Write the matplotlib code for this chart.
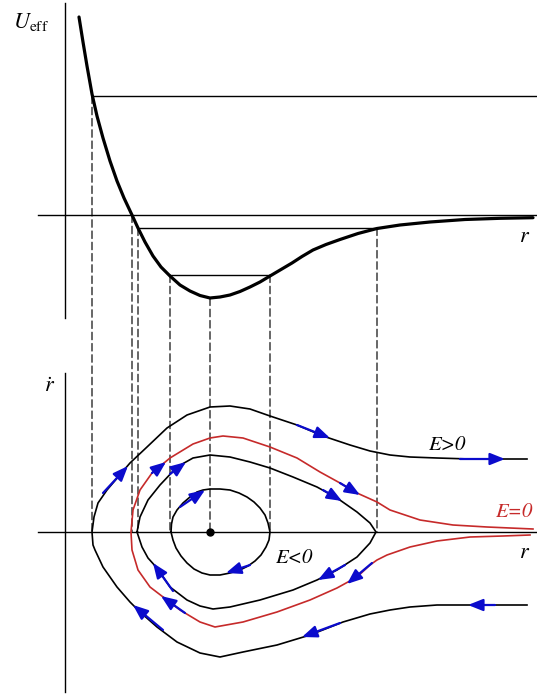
import matplotlib
matplotlib.use('Agg')
import matplotlib.pyplot as plt
from matplotlib.patches import ConnectionPatch

plt.rcParams['mathtext.fontset'] = 'stix'
plt.rcParams['font.family'] = ['STIXGeneral', 'DejaVu Serif']

BLACK = 'black'
RED = '#c62a2a'
BLUE = '#0b0bcc'

# effective potential U_eff(r)
u_r = [14, 18, 22, 27, 32, 38, 45, 52, 59, 67, 73, 80, 88, 96, 105, 115, 125,
       135, 145, 155, 165, 175, 185, 195, 205, 216, 227, 237, 248, 261, 275,
       293, 312, 335, 365, 400, 435, 468]
u_val = [198, 173, 149, 121, 99, 77, 54, 34, 17, 0, -13, -27, -41, -52, -61,
         -70, -76, -80.5, -83, -82, -80, -76.5, -72, -67, -61, -54.5, -48,
         -41.5, -35, -29.5, -24.5, -18.5, -13.5, -10, -7, -4.5, -3.3, -2.7]

# energy levels: value, left turning point, right end of the level line
level_E = [119, -13, -60]
level_r_left = [27, 73, 105]
level_r_right = [472, 312, 205]

# turning points projected down to the phase plane (r, U at that point)
turn_r = [27, 67, 73, 105, 145, 205, 312]
turn_U = [119, 0, -13, -60, -83, -60, -13]

# phase portrait (r, r-dot)
outer_r = [462, 405, 372, 345, 325, 305, 285, 258, 232, 205, 185, 165, 145, 122,
           102, 82, 65, 53, 42, 33, 29, 27,
           28, 30, 38, 52, 65, 75, 92, 112, 135, 155, 178, 212, 245, 278, 305,
           325, 345, 372, 405, 462]
outer_v = [73, 73, 74, 75, 77, 81, 87, 96, 107, 116, 123, 126, 125, 117,
           104, 85, 69, 55, 42, 29, 15, 0,
           -13, -18, -35, -55, -70, -80, -95, -110, -121, -125, -120, -113, -103,
           -90, -82, -78, -75, -73, -73, -73]

sep_r = [468, 422, 388, 355, 325, 312, 292, 275, 255, 232, 205, 178, 158, 145,
         128, 105, 87, 75, 68, 66,
         67, 73, 85, 102, 115, 135, 150, 178, 212, 245, 272, 292, 305, 312, 322,
         345, 372, 405, 438, 465]
sep_v = [3, 5, 7, 12, 22, 30, 39, 49, 60, 74, 85, 94, 96, 94,
         88, 74, 59, 42, 22, 0,
         -18, -38, -55, -68, -78, -90, -95, -90, -80, -68, -56, -45, -33, -28,
         -23, -15, -9, -5, -4, -3]

bound_r = [72, 75, 83, 95, 112, 128, 145, 165, 185, 205, 228, 252, 272, 292, 305,
           311, 305, 292, 272, 252, 228, 195, 165, 148, 135, 122, 105, 92, 83,
           77, 72]
bound_v = [0, 15, 32, 47, 65, 74, 77, 75, 70, 64, 55, 45, 34, 20, 9,
           0, -11, -25, -38, -48, -58, -68, -75, -77, -74, -68, -55, -36, -26,
           -15, 0]

inner_r = [106, 106.5, 108, 112, 118, 125, 132, 138, 145, 155, 165, 174, 182, 189,
           195, 200, 203, 205, 204, 201, 196, 190, 183, 175, 165, 155, 145, 137,
           129, 122, 116, 111, 108, 106]
inner_v = [0, 8, 15, 22, 29, 35, 40, 42, 43, 43, 42, 39, 35, 30,
           24, 17, 9, 0, -8, -15, -23, -29, -34, -38, -41, -43, -43, -41,
           -37, -31, -24, -16, -8, 0]

# blue direction arrows: tail -> tip
arrow_tail = [(38, 39), (87, 59), (105, 58), (115, 25), (232, 107), (258, 42),
              (275, 49), (395, 73), (185, -33), (280, -33), (307, -31),
              (275, -91), (430, -73), (120, -81), (108, -59), (98, -98)]
arrow_tip = [(63, 66), (101, 70), (121, 70), (140, 42), (265, 94), (277, 31),
             (295, 37), (440, 73), (161, -41), (253, -48), (282, -52),
             (237, -105), (403, -73), (96, -64), (88, -31), (68, -73)]

W, H = 537, 694
fig = plt.figure(figsize=(W / 100, H / 100), dpi=100)
ax_u = fig.add_axes([0, (H - 320) / H, 1, 320 / H])
ax_p = fig.add_axes([0, 0, 1, 374 / H])
ax_u.set_xlim(-65, W - 65)
ax_u.set_ylim(215 - 320, 215)
ax_p.set_xlim(-65, W - 65)
ax_p.set_ylim(532 - H, 532 - 320)
for ax in (ax_u, ax_p):
    ax.axis('off')

# upper panel: potential
ax_u.plot([0, 0], [-103, 212], color=BLACK, lw=1.0)
ax_u.plot([-27, W - 65], [0, 0], color=BLACK, lw=1.0)
for E, a, b in zip(level_E, level_r_left, level_r_right):
    ax_u.plot([a, b], [E, E], color=BLACK, lw=1.0)
ax_u.plot(u_r, u_val, color=BLACK, lw=2.3, solid_capstyle='round',
          solid_joinstyle='round')
ax_u.text(-52, 193, r'$U_{\rm eff}$', fontsize=16, ha='left', va='center')
ax_u.text(460, -22, r'$r$', fontsize=16, ha='center', va='center')

# lower panel: phase portrait
ax_p.plot([0, 0], [-160, 159], color=BLACK, lw=1.0)
ax_p.plot([-27, W - 65], [0, 0], color=BLACK, lw=1.0)
for rr, vv, c in [(outer_r, outer_v, BLACK), (bound_r, bound_v, BLACK),
                  (inner_r, inner_v, BLACK), (sep_r, sep_v, RED)]:
    ax_p.plot(rr, vv, color=c, lw=1.2, solid_joinstyle='round')
ax_p.plot([145], [0], 'o', color=BLACK, ms=5)

for tail, tip in zip(arrow_tail, arrow_tip):
    ax_p.annotate('', xy=tip, xytext=tail,
                  arrowprops=dict(arrowstyle='-|>,head_length=0.75,head_width=0.3',
                                  color=BLUE, lw=1.6, shrinkA=0, shrinkB=0,
                                  mutation_scale=12))

ax_p.text(-15, 145, r'$\dot{r}$', fontsize=16, ha='center', va='center')
ax_p.text(460, -21, r'$r$', fontsize=16, ha='center', va='center')
ax_p.text(382, 87, 'E>0', fontsize=15, style='italic', ha='center', va='center')
ax_p.text(449, 20, 'E=0', fontsize=15, style='italic', ha='center', va='center',
          color=RED)
ax_p.text(229, -26, 'E<0', fontsize=15, style='italic', ha='center', va='center')

# dashed projections of the turning points
for r, U in zip(turn_r, turn_U):
    con = ConnectionPatch(xyA=(r, U), coordsA=ax_u.transData,
                          xyB=(r, 0), coordsB=ax_p.transData,
                          color='#111111', lw=0.9, linestyle=(0, (6, 3)), zorder=-1)
    fig.add_artist(con)

fig.savefig('out.png', dpi=100)
plt.close(fig)
